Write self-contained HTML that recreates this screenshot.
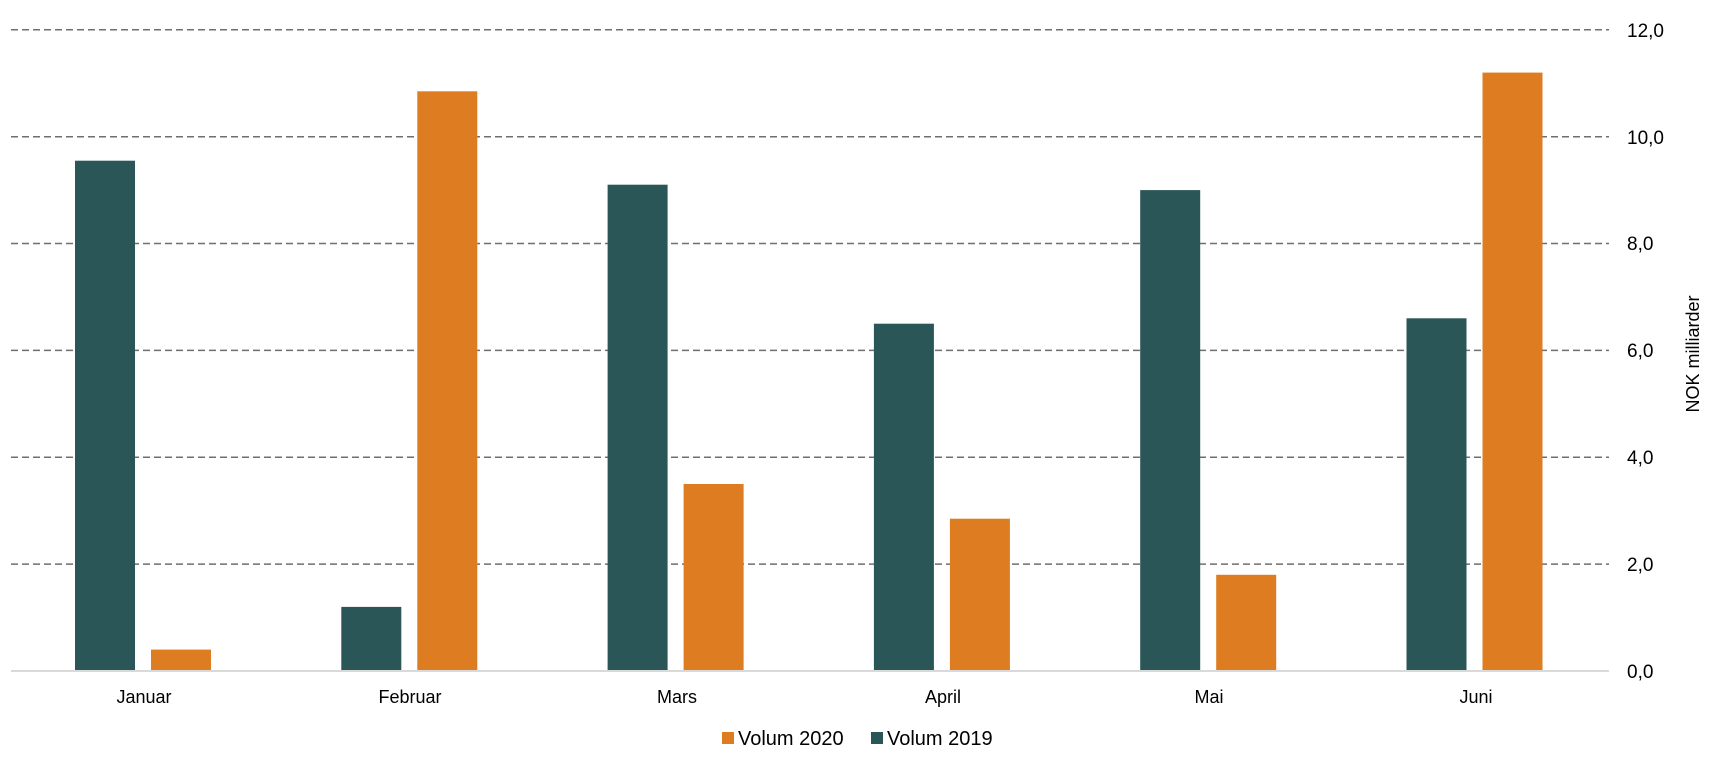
<!DOCTYPE html>
<html><head><meta charset="utf-8"><style>
html,body{margin:0;padding:0;background:#fff;}
svg text{font-family:"Liberation Sans",Arial,sans-serif;fill:#000;}
</style></head><body>
<svg width="1724" height="757" xmlns="http://www.w3.org/2000/svg">
<g stroke="#6f6f6f" stroke-width="1.5" stroke-dasharray="7,4">
<line x1="11" x2="1609" y1="29.8" y2="29.8"/>
<line x1="11" x2="1609" y1="136.7" y2="136.7"/>
<line x1="11" x2="1609" y1="243.5" y2="243.5"/>
<line x1="11" x2="1609" y1="350.4" y2="350.4"/>
<line x1="11" x2="1609" y1="457.2" y2="457.2"/>
<line x1="11" x2="1609" y1="564.1" y2="564.1"/>
</g>
<g fill="#2a5657">
<rect x="75" y="160.7" width="60" height="510.3"/>
<rect x="341.3" y="606.9" width="60" height="64.1"/>
<rect x="607.6" y="184.7" width="60" height="486.3"/>
<rect x="873.9" y="323.7" width="60" height="347.3"/>
<rect x="1140.2" y="190.1" width="60" height="480.9"/>
<rect x="1406.5" y="318.3" width="60" height="352.7"/>
</g>
<g fill="#dd7c20">
<rect x="151" y="649.6" width="60" height="21.4"/>
<rect x="417.3" y="91.3" width="60" height="579.7"/>
<rect x="683.6" y="484" width="60" height="187"/>
<rect x="949.9" y="518.7" width="60" height="152.3"/>
<rect x="1216.2" y="574.8" width="60" height="96.2"/>
<rect x="1482.5" y="72.6" width="60" height="598.4"/>
</g>
<line x1="11" x2="1609" y1="671" y2="671" stroke="#d9d9d9" stroke-width="2"/>
<g font-size="18" text-anchor="middle">
<text x="144" y="703">Januar</text>
<text x="410" y="703">Februar</text>
<text x="677" y="703">Mars</text>
<text x="943" y="703">April</text>
<text x="1209" y="703">Mai</text>
<text x="1476" y="703">Juni</text>
</g>
<g font-size="19">
<text x="1627" y="678">0,0</text>
<text x="1627" y="571">2,0</text>
<text x="1627" y="464">4,0</text>
<text x="1627" y="357">6,0</text>
<text x="1627" y="250">8,0</text>
<text x="1627" y="144">10,0</text>
<text x="1627" y="37">12,0</text>
</g>
<text font-size="18" transform="translate(1699,354) rotate(-90)" text-anchor="middle">NOK milliarder</text>
<rect x="722" y="732" width="12" height="12" fill="#dd7c20"/>
<text x="738" y="745" font-size="20">Volum 2020</text>
<rect x="871" y="732" width="12" height="12" fill="#2a5657"/>
<text x="887" y="745" font-size="20">Volum 2019</text>
</svg>
</body></html>
